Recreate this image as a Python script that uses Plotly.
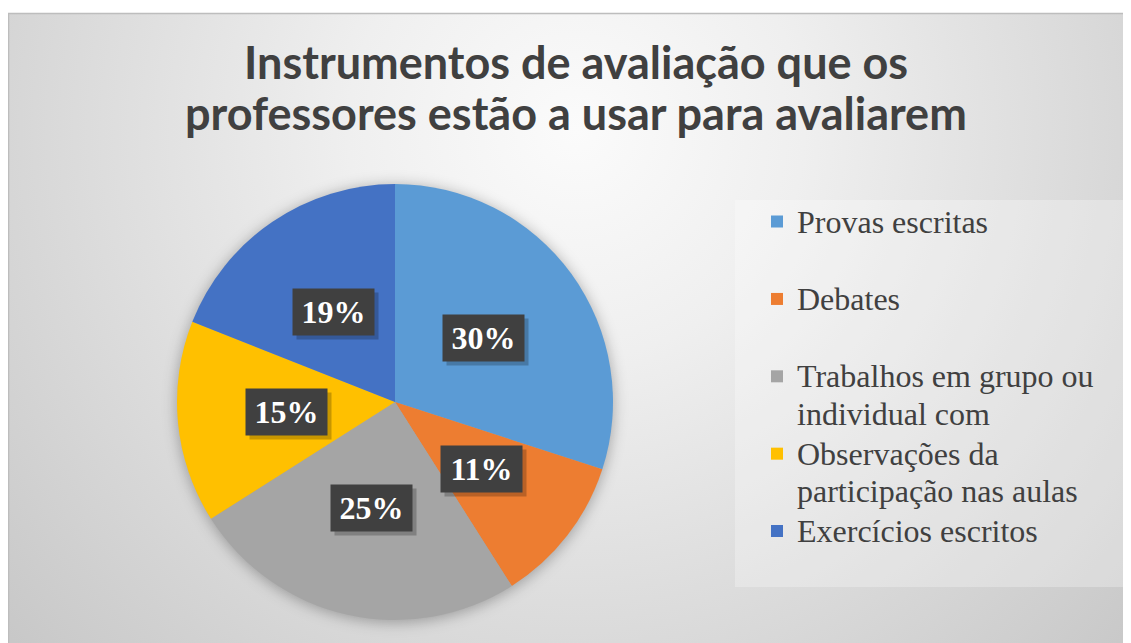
import base64
import math
import plotly.graph_objects as go

# ---------------- data ----------------
categories = [
    "Provas escritas",
    "Debates",
    "Trabalhos em grupo ou<br>individual com",
    "Observações da<br>participação nas aulas",
    "Exercícios escritos",
]
values = [30, 11, 25, 15, 19]
colors = ["#5B9BD5", "#ED7D31", "#A5A5A5", "#FFC000", "#4472C4"]
title_lines = ["Instrumentos de avaliação que os", "professores estão a usar para avaliarem"]

# ---------------- layout geometry (page pixels) ----------------
PAGE_W, PAGE_H = 1131, 643
OFF = 8                              # default body margin of the html page
FW, FH = PAGE_W - OFF, PAGE_H - OFF  # figure size
AREA_X0, AREA_Y0 = 8, 13             # chart area corner on the page
PCX, PCY, PR = 395, 402, 218         # pie centre / radius on the page
TEXT_COLOR = "#404040"


def px_x(x):
    return (x - OFF) / FW


def px_y(y):
    return 1 - (y - OFF) / FH


# legend labels: larger glyphs inside a tighter line grid; single-line entries
# (except the last) get a blank second line so entries are evenly spaced
def legend_label(name, last):
    lines = name.split("<br>")
    out = "<br>".join(f"<span style='font-size:32px'>{ln}</span>" for ln in lines)
    if len(lines) == 1 and not last:
        out += "<br>\u00a0"
    return out


legend_labels = [legend_label(c, i == len(categories) - 1) for i, c in enumerate(categories)]

# ---------------- background (radial gradient + pie glow) ----------------
iw, ih = PAGE_W - AREA_X0, PAGE_H - AREA_Y0
svg = (
    f"<svg xmlns='http://www.w3.org/2000/svg' width='{iw}' height='{ih}' viewBox='0 0 {iw} {ih}'>"
    "<defs>"
    f"<radialGradient id='g' gradientUnits='userSpaceOnUse' cx='{576 - AREA_X0}' cy='{130 - AREA_Y0}' r='760'>"
    "<stop offset='0' stop-color='#fbfbfb'/>"
    "<stop offset='0.3' stop-color='#efefef'/>"
    "<stop offset='1' stop-color='#c8c8c8'/>"
    "</radialGradient>"
    "<filter id='b' x='-30%' y='-30%' width='160%' height='160%'><feGaussianBlur stdDeviation='7'/></filter>"
    "</defs>"
    f"<rect width='{iw}' height='{ih}' fill='url(#g)'/>"
    f"<circle cx='{PCX - AREA_X0}' cy='{PCY - AREA_Y0 + 2}' r='{PR + 1}' fill='#000' fill-opacity='0.28' filter='url(#b)'/>"
    "</svg>"
)
bg_src = "data:image/svg+xml;base64," + base64.b64encode(svg.encode("utf-8")).decode("ascii")

# ---------------- figure ----------------
fig = go.Figure()
fig.add_trace(
    go.Pie(
        labels=legend_labels,
        values=values,
        marker=dict(colors=colors, line=dict(width=0)),
        sort=False,
        direction="clockwise",
        rotation=0,
        textinfo="none",
        hoverinfo="label+percent",
        domain=dict(
            x=[px_x(PCX - PR), px_x(PCX + PR)],
            y=[px_y(PCY + PR), px_y(PCY - PR)],
        ),
        showlegend=True,
    )
)

# percentage labels in dark boxes, positioned from the data
annotations = []
total = sum(values)
cum = 0
BOX_W, BOX_H = 81, 46
LABEL_FONT = "Liberation Serif"
for v in values:
    theta = 2 * math.pi * (cum + v / 2) / total
    cum += v
    lx = PCX + 0.5 * PR * math.sin(theta)
    ly = PCY - 0.5 * PR * math.cos(theta)
    txt = f"{round(100 * v / total)}%"
    common = dict(xref="paper", yref="paper", xanchor="center", yanchor="middle",
                  showarrow=False, width=BOX_W, height=BOX_H, borderpad=0)
    # soft shadow box (no text)
    annotations.append(dict(
        x=px_x(lx + 4), y=px_y(ly + 4), bgcolor="rgba(0,0,0,0.22)", text="\u00a0",
        font=dict(family=LABEL_FONT, size=32, color="rgba(0,0,0,0)"), **common))
    annotations.append(dict(
        x=px_x(lx), y=px_y(ly), bgcolor="#404040", text=txt,
        font=dict(family=LABEL_FONT, size=32, color="white", weight="bold"), **common))

# title (two lines, centred)
for line, yc in zip(title_lines, [61.5, 112.5]):
    annotations.append(dict(
        x=px_x(576), y=px_y(yc), xref="paper", yref="paper",
        xanchor="center", yanchor="middle", showarrow=False,
        text=f"<b>{line}</b>",
        font=dict(family="Lato", size=45, color=TEXT_COLOR),
    ))

shapes = [
    # legend background
    dict(type="rect", xref="paper", yref="paper",
         x0=px_x(735), x1=px_x(1129), y0=px_y(587), y1=px_y(200),
         fillcolor="rgba(255,255,255,0.28)", line=dict(width=0), layer="below"),
    # chart area border
    dict(type="rect", xref="paper", yref="paper",
         x0=px_x(AREA_X0 + 0.5), x1=1.01, y0=-0.01, y1=px_y(AREA_Y0 + 0.5),
         fillcolor="rgba(0,0,0,0)", line=dict(width=1.5, color="#bdbdbd"), layer="above"),
]

fig.update_layout(
    width=FW, height=FH,
    margin=dict(l=0, r=0, t=0, b=0),
    paper_bgcolor="white",
    plot_bgcolor="white",
    images=[dict(
        source=bg_src, xref="paper", yref="paper",
        x=px_x(AREA_X0), y=px_y(AREA_Y0),
        sizex=iw / FW, sizey=ih / FH,
        xanchor="left", yanchor="top", sizing="stretch", layer="below",
    )],
    shapes=shapes,
    annotations=annotations,
    legend=dict(
        x=px_x(757), y=px_y(196.5), xanchor="left", yanchor="top",
        bgcolor="rgba(0,0,0,0)", borderwidth=0,
        valign="top", traceorder="normal",
        font=dict(family="Liberation Serif", size=28.6, color=TEXT_COLOR),
    ),
)

fig.write_html("out.html")
